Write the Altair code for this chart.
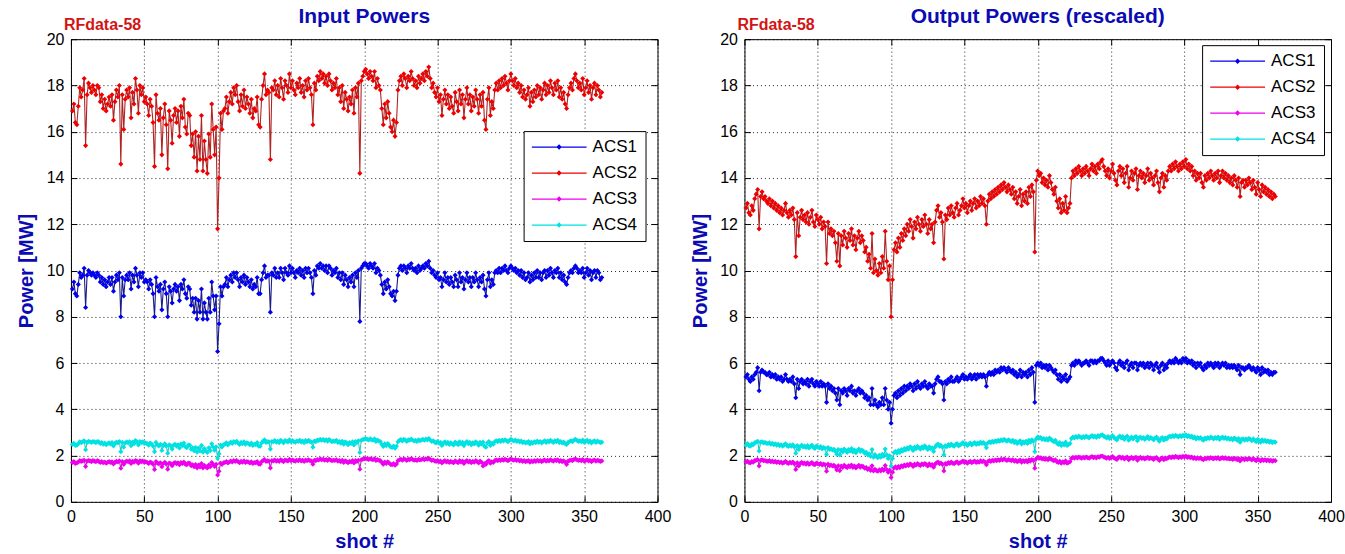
import altair as alt
import pandas as pd

# ---------------------------------------------------------------- labels
series_names = ["ACS1", "ACS2", "ACS3", "ACS4"]
marker_colors = ["#0000ee", "#ee0000", "#ee00ee", "#00e2e2"]
line_colors = ["#1c1c88", "#b02424", "#a832a8", "#38c4c4"]

x_ticks = [0, 50, 100, 150, 200, 250, 300, 350, 400]
y_ticks = [0, 2, 4, 6, 8, 10, 12, 14, 16, 18, 20]

title_input = "Input Powers"
title_output = "Output Powers (rescaled)"
run_label = "RFdata-58"
x_title = "shot #"
y_title = "Power [MW]"

# ---------------------------------------------------------------- input powers [MW], shots 1..362
input_acs1 = [
    9.2, 9.5, 9.0, 8.9, 9.4, 9.9, 9.7, 9.8, 10.1, 8.4,
    9.8, 10.0, 9.9, 9.8, 9.9, 9.8, 9.7, 9.9, 9.8, 9.5,
    9.7, 9.4, 9.6, 9.3, 9.5, 9.7, 9.4, 9.7, 9.1, 9.5,
    9.8, 9.6, 9.9, 8.0, 9.7, 8.9, 9.6, 9.8, 9.6, 9.9,
    9.2, 9.8, 9.5, 10.1, 9.8, 9.3, 9.9, 9.7, 9.9, 9.5,
    9.6, 9.5, 9.2, 9.6, 9.4, 9.0, 8.0, 9.7, 9.3, 9.1,
    9.4, 8.3, 9.2, 9.5, 9.0, 8.0, 9.3, 9.1, 8.6, 9.2,
    9.4, 9.1, 9.3, 8.7, 9.4, 9.2, 9.6, 9.0, 8.8, 9.3,
    9.2, 8.5, 8.8, 8.2, 8.8, 7.9, 8.7, 8.2, 9.2, 7.9,
    8.6, 8.2, 7.9, 8.8, 8.2, 9.5, 8.9, 8.3, 8.9, 6.5,
    7.7, 9.3, 8.9, 9.3, 9.4, 9.7, 9.3, 9.6, 9.8, 9.5,
    9.9, 9.7, 9.9, 9.6, 9.3, 9.7, 9.5, 9.8, 9.4, 9.7,
    9.5, 9.3, 9.6, 9.2, 9.4, 9.3, 9.7, 9.0, 9.0, 9.6,
    9.9, 10.2, 9.7, 9.8, 9.8, 8.2, 9.9, 9.8, 10.1, 9.7,
    9.9, 9.7, 10.1, 9.9, 9.6, 10.1, 9.9, 9.8, 10.2, 9.9,
    10.1, 9.9, 9.7, 10.0, 9.9, 10.1, 9.8, 10.0, 9.7, 10.1,
    9.9, 10.1, 9.9, 9.7, 9.0, 10.0, 9.8, 10.2, 10.1, 10.3,
    10.1, 10.2, 10.0, 10.2, 9.9, 10.2, 10.1, 9.8, 10.0, 9.9,
    10.1, 9.7, 9.9, 9.6, 9.9, 9.4, 9.8, 9.6, 9.3, 9.7,
    9.5, 9.8, 9.3, 9.9, 9.7, 10.0, 7.8, 10.1, 10.2, 10.3,
    10.3, 10.2, 10.1, 10.3, 10.2, 10.1, 10.3, 9.9, 10.1, 10.0,
    9.8, 9.4, 9.0, 9.5, 9.2, 9.6, 9.3, 9.0, 8.9, 9.1,
    8.7, 9.1, 9.8, 10.1, 10.2, 10.0, 10.2, 10.1, 9.9, 10.2,
    10.1, 10.3, 10.1, 10.0, 10.1, 9.9, 10.2, 10.0, 10.1, 10.2,
    10.1, 10.3, 10.2, 10.4, 10.1, 9.9, 10.0, 9.8, 9.7, 9.9,
    9.6, 9.7, 9.3, 9.6, 9.9, 9.5, 9.7, 9.4, 9.7, 9.5,
    9.3, 9.8, 9.6, 9.3, 9.9, 9.5, 9.7, 9.2, 9.6, 9.9,
    9.5, 9.7, 9.3, 9.7, 9.5, 9.9, 9.6, 9.3, 9.7, 9.5,
    9.8, 9.2, 8.9, 9.6, 9.9, 9.3, 9.6, 9.4, 9.9, 10.0,
    9.9, 10.1, 9.9, 10.1, 10.0, 10.2, 10.0, 9.9, 10.1, 10.2,
    10.1, 10.0, 10.1, 9.9, 10.0, 9.8, 10.0, 9.7, 9.9, 9.6,
    9.7, 9.9, 9.5, 9.8, 9.6, 9.9, 9.7, 10.0, 9.7, 9.9,
    9.6, 9.9, 10.0, 9.7, 10.0, 9.8, 10.1, 9.9, 9.7, 10.0,
    9.9, 10.1, 9.7, 9.9, 9.6, 9.8, 9.5, 9.4, 9.7, 9.9,
    10.0, 9.9, 10.1, 10.2, 10.1, 9.9, 10.0, 9.9, 10.1, 9.7,
    9.9, 10.1, 9.8, 10.0, 9.6, 9.9, 10.0, 9.7, 10.0, 9.9,
    9.6, 9.7,
]

input_acs2 = [
    16.9, 17.2, 16.4, 16.3, 17.1, 17.9, 17.5, 17.8, 18.3, 15.4,
    17.6, 18.1, 17.9, 17.7, 18.0, 17.8, 17.6, 18.0, 17.9, 17.3,
    17.6, 17.0, 17.4, 16.9, 17.2, 17.5, 17.1, 17.6, 16.5, 17.3,
    17.8, 17.5, 18.0, 14.6, 17.6, 16.1, 17.4, 17.8, 17.5, 17.9,
    16.6, 17.7, 17.2, 18.3, 17.8, 16.8, 18.0, 17.6, 17.9, 17.3,
    17.5, 17.2, 16.7, 17.4, 17.1, 16.4, 14.5, 17.6, 16.8, 16.5,
    17.0, 15.0, 16.6, 17.2, 16.3, 14.4, 16.9, 16.5, 15.5, 16.7,
    17.0, 16.4, 16.9, 15.8, 17.1, 16.6, 17.4, 16.2, 15.9, 16.8,
    16.7, 15.4, 15.9, 14.9, 16.0, 14.3, 15.8, 14.8, 16.7, 14.3,
    15.6, 14.8, 14.2, 15.9, 14.9, 17.2, 16.1, 15.0, 16.2, 11.8,
    14.0, 16.8, 16.1, 16.9, 17.0, 17.5, 16.8, 17.3, 17.7, 17.2,
    17.9, 17.6, 18.0, 17.3, 16.9, 17.6, 17.1, 17.8, 17.0, 17.5,
    17.2, 16.8, 17.4, 16.6, 17.0, 16.9, 17.5, 16.3, 16.2, 17.4,
    18.0, 18.5, 17.6, 17.8, 17.7, 14.8, 17.9, 17.8, 18.2, 17.6,
    18.0, 17.5, 18.3, 17.9, 17.4, 18.2, 18.0, 17.7, 18.5, 17.9,
    18.2, 17.8, 17.6, 18.1, 17.9, 18.3, 17.7, 18.0, 17.5, 18.2,
    17.8, 18.3, 17.9, 17.6, 16.3, 18.1, 17.8, 18.4, 18.2, 18.6,
    18.3, 18.5, 18.1, 18.4, 18.0, 18.5, 18.2, 17.8, 18.1, 17.9,
    18.3, 17.6, 17.9, 17.3, 18.0, 17.0, 17.7, 17.4, 16.9, 17.5,
    17.2, 17.8, 16.8, 17.9, 17.5, 18.1, 14.2, 18.2, 18.4, 18.6,
    18.7, 18.5, 18.3, 18.6, 18.4, 18.2, 18.6, 17.9, 18.3, 18.0,
    17.8, 17.0, 16.3, 17.2, 16.6, 17.3, 16.8, 16.2, 16.0, 16.5,
    15.8, 16.4, 17.8, 18.2, 18.4, 18.0, 18.5, 18.3, 17.9, 18.4,
    18.2, 18.6, 18.3, 18.0, 18.2, 17.9, 18.4, 18.1, 18.3, 18.5,
    18.2, 18.6, 18.4, 18.8, 18.3, 17.9, 18.1, 17.7, 17.5, 17.9,
    17.3, 17.6, 16.7, 17.4, 17.8, 17.2, 17.6, 17.0, 17.5, 17.1,
    16.8, 17.7, 17.3, 16.9, 17.8, 17.2, 17.6, 16.6, 17.4, 17.9,
    17.2, 17.6, 16.9, 17.5, 17.1, 17.8, 17.4, 16.8, 17.6, 17.1,
    17.7, 16.5, 16.1, 17.4, 17.9, 16.7, 17.3, 17.0, 17.8, 18.1,
    17.8, 18.2, 17.9, 18.3, 18.0, 18.4, 18.1, 17.8, 18.2, 18.5,
    18.2, 18.0, 18.3, 17.9, 18.1, 17.7, 18.0, 17.5, 17.8, 17.4,
    17.6, 17.9, 17.1, 17.7, 17.3, 17.8, 17.5, 18.0, 17.6, 17.9,
    17.4, 17.8, 18.1, 17.6, 18.0, 17.7, 18.2, 17.9, 17.6, 18.1,
    17.8, 18.2, 17.5, 17.9, 17.4, 17.7, 17.2, 17.0, 17.6, 17.9,
    18.1, 17.8, 18.3, 18.5, 18.2, 17.9, 18.1, 17.8, 18.3, 17.6,
    17.9, 18.2, 17.7, 18.0, 17.4, 17.9, 18.1, 17.6, 18.0, 17.8,
    17.5, 17.7,
]

input_acs3 = [
    1.70, 1.74, 1.66, 1.68, 1.72, 1.78, 1.75, 1.77, 1.80, 1.53,
    1.76, 1.79, 1.77, 1.74, 1.78, 1.76, 1.73, 1.78, 1.75, 1.70,
    1.74, 1.69, 1.72, 1.67, 1.71, 1.74, 1.70, 1.73, 1.64, 1.71,
    1.75, 1.72, 1.77, 1.45, 1.74, 1.62, 1.72, 1.76, 1.73, 1.77,
    1.66, 1.75, 1.71, 1.79, 1.76, 1.67, 1.77, 1.74, 1.76, 1.71,
    1.73, 1.70, 1.66, 1.72, 1.69, 1.63, 1.40, 1.74, 1.67, 1.65,
    1.69, 1.52, 1.66, 1.71, 1.64, 1.41, 1.68, 1.65, 1.56, 1.67,
    1.70, 1.65, 1.69, 1.60, 1.70, 1.66, 1.72, 1.63, 1.60, 1.68,
    1.67, 1.56, 1.60, 1.52, 1.61, 1.47, 1.59, 1.51, 1.66, 1.47,
    1.57, 1.51, 1.46, 1.59, 1.52, 1.70, 1.61, 1.53, 1.62, 1.16,
    1.32, 1.68, 1.62, 1.69, 1.70, 1.74, 1.68, 1.72, 1.76, 1.72,
    1.78, 1.75, 1.79, 1.73, 1.69, 1.75, 1.71, 1.77, 1.70, 1.74,
    1.72, 1.68, 1.73, 1.66, 1.70, 1.69, 1.74, 1.64, 1.63, 1.73,
    1.79, 1.83, 1.75, 1.77, 1.76, 1.46, 1.78, 1.77, 1.81, 1.76,
    1.79, 1.75, 1.82, 1.78, 1.74, 1.81, 1.79, 1.77, 1.84, 1.78,
    1.81, 1.78, 1.76, 1.80, 1.78, 1.82, 1.77, 1.80, 1.75, 1.81,
    1.78, 1.82, 1.78, 1.76, 1.63, 1.80, 1.78, 1.83, 1.81, 1.85,
    1.82, 1.84, 1.80, 1.83, 1.79, 1.84, 1.81, 1.78, 1.80, 1.79,
    1.82, 1.76, 1.79, 1.73, 1.80, 1.70, 1.77, 1.74, 1.69, 1.75,
    1.72, 1.78, 1.68, 1.79, 1.75, 1.80, 1.41, 1.82, 1.84, 1.86,
    1.87, 1.85, 1.83, 1.86, 1.84, 1.82, 1.86, 1.79, 1.83, 1.80,
    1.78, 1.70, 1.63, 1.72, 1.66, 1.73, 1.68, 1.62, 1.60, 1.65,
    1.58, 1.64, 1.78, 1.82, 1.84, 1.80, 1.85, 1.83, 1.79, 1.84,
    1.82, 1.86, 1.83, 1.80, 1.82, 1.79, 1.84, 1.81, 1.83, 1.85,
    1.82, 1.86, 1.84, 1.88, 1.83, 1.79, 1.81, 1.77, 1.75, 1.79,
    1.73, 1.76, 1.68, 1.74, 1.78, 1.72, 1.76, 1.70, 1.75, 1.71,
    1.69, 1.77, 1.73, 1.69, 1.78, 1.72, 1.76, 1.66, 1.74, 1.79,
    1.72, 1.76, 1.69, 1.75, 1.71, 1.78, 1.74, 1.68, 1.76, 1.71,
    1.55, 1.66, 1.62, 1.74, 1.79, 1.67, 1.73, 1.70, 1.78, 1.81,
    1.78, 1.82, 1.79, 1.83, 1.80, 1.84, 1.81, 1.78, 1.82, 1.85,
    1.82, 1.80, 1.83, 1.79, 1.81, 1.77, 1.80, 1.75, 1.78, 1.74,
    1.76, 1.79, 1.71, 1.77, 1.73, 1.78, 1.75, 1.80, 1.76, 1.79,
    1.74, 1.78, 1.81, 1.76, 1.80, 1.77, 1.82, 1.79, 1.76, 1.81,
    1.78, 1.82, 1.75, 1.79, 1.74, 1.77, 1.72, 1.62, 1.76, 1.79,
    1.81, 1.78, 1.83, 1.85, 1.82, 1.79, 1.81, 1.78, 1.83, 1.76,
    1.79, 1.82, 1.77, 1.80, 1.74, 1.79, 1.81, 1.76, 1.80, 1.78,
    1.75, 1.77,
]

input_acs4 = [
    2.48, 2.53, 2.44, 2.45, 2.51, 2.60, 2.56, 2.59, 2.64, 2.25,
    2.57, 2.62, 2.60, 2.57, 2.61, 2.59, 2.56, 2.61, 2.59, 2.52,
    2.56, 2.49, 2.54, 2.47, 2.51, 2.55, 2.50, 2.56, 2.42, 2.52,
    2.58, 2.55, 2.61, 2.17, 2.57, 2.36, 2.54, 2.59, 2.55, 2.60,
    2.43, 2.58, 2.51, 2.65, 2.59, 2.46, 2.61, 2.56, 2.60, 2.52,
    2.55, 2.51, 2.45, 2.54, 2.50, 2.41, 2.17, 2.57, 2.46, 2.42,
    2.49, 2.22, 2.43, 2.51, 2.40, 2.10, 2.47, 2.42, 2.28, 2.45,
    2.49, 2.41, 2.47, 2.33, 2.50, 2.43, 2.54, 2.38, 2.34, 2.46,
    2.45, 2.27, 2.34, 2.21, 2.35, 2.15, 2.33, 2.20, 2.44, 2.15,
    2.30, 2.20, 2.13, 2.34, 2.22, 2.51, 2.37, 2.23, 2.38, 1.88,
    2.08, 2.46, 2.37, 2.47, 2.49, 2.55, 2.46, 2.53, 2.58, 2.52,
    2.61, 2.57, 2.62, 2.53, 2.48, 2.57, 2.51, 2.60, 2.49, 2.55,
    2.52, 2.47, 2.54, 2.44, 2.49, 2.48, 2.56, 2.41, 2.40, 2.54,
    2.62, 2.68, 2.57, 2.60, 2.59, 2.28, 2.61, 2.60, 2.65, 2.58,
    2.62, 2.56, 2.66, 2.61, 2.55, 2.65, 2.62, 2.59, 2.68, 2.61,
    2.65, 2.60, 2.58, 2.63, 2.61, 2.66, 2.59, 2.63, 2.56, 2.65,
    2.60, 2.66, 2.61, 2.58, 2.36, 2.63, 2.60, 2.67, 2.65, 2.70,
    2.66, 2.69, 2.64, 2.68, 2.62, 2.69, 2.65, 2.60, 2.63, 2.61,
    2.66, 2.57, 2.61, 2.53, 2.62, 2.49, 2.59, 2.55, 2.47, 2.56,
    2.52, 2.60, 2.46, 2.61, 2.56, 2.64, 2.13, 2.66, 2.69, 2.71,
    2.73, 2.70, 2.67, 2.72, 2.69, 2.66, 2.72, 2.61, 2.67, 2.63,
    2.60, 2.48, 2.39, 2.51, 2.43, 2.52, 2.45, 2.37, 2.35, 2.41,
    2.32, 2.40, 2.60, 2.66, 2.69, 2.63, 2.70, 2.67, 2.61, 2.68,
    2.66, 2.71, 2.67, 2.63, 2.66, 2.61, 2.68, 2.64, 2.67, 2.70,
    2.66, 2.71, 2.68, 2.74, 2.67, 2.61, 2.64, 2.58, 2.55, 2.61,
    2.53, 2.57, 2.44, 2.54, 2.60, 2.51, 2.57, 2.48, 2.55, 2.50,
    2.46, 2.58, 2.53, 2.47, 2.60, 2.51, 2.57, 2.43, 2.54, 2.61,
    2.51, 2.57, 2.47, 2.55, 2.50, 2.60, 2.54, 2.45, 2.57, 2.50,
    2.58, 2.41, 2.36, 2.54, 2.61, 2.44, 2.53, 2.49, 2.60, 2.64,
    2.60, 2.66, 2.61, 2.67, 2.63, 2.68, 2.64, 2.60, 2.66, 2.70,
    2.66, 2.63, 2.67, 2.61, 2.64, 2.59, 2.63, 2.56, 2.60, 2.54,
    2.57, 2.61, 2.50, 2.58, 2.53, 2.60, 2.56, 2.63, 2.57, 2.61,
    2.54, 2.60, 2.64, 2.57, 2.63, 2.59, 2.66, 2.61, 2.57, 2.64,
    2.60, 2.66, 2.56, 2.61, 2.54, 2.58, 2.51, 2.48, 2.57, 2.61,
    2.64, 2.60, 2.67, 2.70, 2.66, 2.61, 2.64, 2.60, 2.67, 2.57,
    2.61, 2.66, 2.58, 2.63, 2.54, 2.61, 2.64, 2.57, 2.63, 2.60,
    2.56, 2.58,
]

# ---------------------------------------------------------------- output powers [MW], shots 1..362
output_acs1 = [
    5.4, 5.5, 5.3, 5.2, 5.4, 5.3, 5.5, 5.6, 5.8, 4.8,
    5.6, 5.7, 5.6, 5.6, 5.5, 5.5, 5.6, 5.4, 5.5, 5.4,
    5.5, 5.3, 5.4, 5.3, 5.4, 5.2, 5.3, 5.5, 5.3, 5.2,
    5.3, 5.2, 5.4, 5.1, 4.5, 5.3, 4.9, 5.2, 5.3, 5.1,
    5.2, 5.1, 5.3, 5.0, 5.2, 5.3, 5.1, 5.0, 5.2, 5.1,
    5.0, 5.2, 5.0, 5.1, 5.0, 4.3, 5.1, 4.9, 5.0, 4.8,
    4.9, 4.7, 4.4, 4.9, 4.2, 4.8, 4.7, 4.9, 4.8, 4.6,
    4.9, 4.8, 5.0, 4.7, 4.8, 4.6, 4.8, 4.9, 4.7, 4.8,
    4.7, 4.5, 4.6, 4.4, 4.5, 4.2, 4.9, 4.2, 4.4, 4.2,
    4.1, 4.3, 4.2, 4.5, 4.2, 4.9, 4.4, 4.0, 4.3, 3.4,
    4.0, 4.6, 4.7, 4.5, 4.8, 4.6, 4.9, 4.7, 5.0, 4.8,
    5.0, 4.9, 5.1, 5.0, 4.8, 5.1, 4.9, 5.2, 5.0, 4.9,
    5.1, 5.0, 5.2, 5.0, 4.9, 5.1, 5.0, 5.0, 4.7, 5.1,
    5.3, 5.4, 5.2, 5.2, 5.1, 4.4, 5.2, 5.1, 5.3, 5.2,
    5.4, 5.2, 5.2, 5.3, 5.4, 5.2, 5.3, 5.4, 5.5, 5.3,
    5.4, 5.3, 5.4, 5.5, 5.3, 5.4, 5.5, 5.3, 5.5, 5.4,
    5.5, 5.4, 5.5, 5.4, 5.0, 5.5, 5.6, 5.5, 5.6, 5.5,
    5.7, 5.6, 5.7, 5.6, 5.8, 5.7, 5.8, 5.7, 5.6, 5.8,
    5.7, 5.6, 5.7, 5.5, 5.6, 5.4, 5.5, 5.7, 5.4, 5.6,
    5.5, 5.6, 5.4, 5.7, 5.5, 5.8, 5.6, 4.3, 5.9, 6.0,
    5.9, 6.0, 5.8, 5.9, 5.8, 5.9, 5.7, 5.9, 5.8, 5.7,
    5.6, 5.7, 5.5, 5.3, 5.5, 5.2, 5.4, 5.3, 5.5, 5.2,
    5.3, 5.4, 5.9, 6.0, 5.9, 6.1, 6.0, 6.1, 6.0, 5.9,
    6.0, 6.0, 6.1, 6.0, 5.9, 6.1, 6.1, 6.0, 6.1, 6.0,
    6.1, 6.1, 6.2, 6.2, 6.1, 6.0, 5.9, 6.1, 5.9, 6.0,
    6.1, 6.0, 5.8, 5.7, 6.0, 6.1, 5.9, 6.0, 5.8, 6.0,
    6.1, 5.7, 5.9, 6.0, 5.8, 6.0, 6.0, 5.7, 5.9, 6.0,
    5.9, 6.0, 5.8, 5.9, 6.0, 5.8, 6.0, 5.9, 5.7, 5.9,
    6.0, 5.8, 5.6, 5.9, 6.0, 5.7, 5.9, 5.8, 6.0, 6.1,
    6.0, 6.1, 6.0, 6.2, 6.1, 6.0, 6.1, 6.0, 6.2, 6.1,
    6.2, 6.0, 6.1, 6.0, 6.1, 5.9, 6.0, 5.8, 6.0, 5.9,
    6.0, 5.8, 5.7, 5.9, 5.8, 6.0, 5.9, 6.0, 5.9, 5.8,
    6.0, 5.9, 6.0, 5.8, 5.9, 6.0, 5.9, 6.0, 5.8, 5.9,
    5.8, 5.9, 5.8, 5.9, 5.8, 5.7, 5.9, 5.5, 5.8, 5.8,
    5.7, 5.8, 5.8, 5.9, 5.8, 5.7, 5.8, 5.7, 5.6, 5.8,
    5.7, 5.5, 5.8, 5.6, 5.7, 5.6, 5.7, 5.5, 5.6, 5.5,
    5.6, 5.6,
]

output_acs2 = [
    12.7, 12.9, 12.5, 12.4, 12.8, 12.6, 13.1, 13.3, 13.5, 11.8,
    13.2, 13.4, 13.1, 13.2, 13.0, 12.9, 13.1, 12.8, 13.0, 12.7,
    12.9, 12.6, 12.8, 12.5, 12.7, 12.4, 12.6, 12.9, 12.5, 12.3,
    12.6, 12.4, 12.7, 12.2, 10.6, 12.5, 11.5, 12.3, 12.6, 12.2,
    12.4, 12.1, 12.5, 12.0, 12.3, 12.6, 12.1, 11.9, 12.4, 12.2,
    12.0, 12.3, 11.8, 12.1, 11.9, 10.3, 12.1, 11.6, 11.8, 11.5,
    11.7, 11.2, 10.4, 11.6, 10.2, 11.5, 11.1, 11.7, 11.4, 11.0,
    11.6, 11.3, 11.8, 11.1, 11.5, 10.9, 11.4, 11.7, 11.2, 11.5,
    11.3, 10.8, 11.0, 10.4, 10.7, 10.1, 11.6, 9.9, 10.5, 10.0,
    9.8, 10.3, 9.9, 10.6, 10.1, 11.7, 10.4, 9.6, 10.2, 8.0,
    9.6, 10.9, 11.2, 10.8, 11.4, 11.0, 11.6, 11.3, 11.8, 11.5,
    12.0, 11.7, 12.2, 11.9, 11.4, 12.1, 11.8, 12.3, 12.0, 11.7,
    12.2, 11.9, 12.4, 12.0, 11.6, 12.2, 11.8, 12.0, 11.2, 12.1,
    12.6, 12.8, 12.3, 12.5, 12.1, 10.5, 12.4, 12.2, 12.7, 12.4,
    12.8, 12.5, 12.3, 12.7, 12.9, 12.4, 12.6, 12.8, 13.1, 12.7,
    12.9, 12.5, 12.8, 13.0, 12.6, 12.9, 13.1, 12.7, 13.0, 12.8,
    13.2, 12.9, 13.1, 12.8, 12.0, 13.0, 13.3, 13.1, 13.4, 13.2,
    13.5, 13.3, 13.6, 13.4, 13.7, 13.5, 13.8, 13.6, 13.4, 13.7,
    13.5, 13.3, 13.6, 13.1, 13.4, 12.9, 13.2, 13.5, 12.8, 13.3,
    13.0, 13.4, 12.9, 13.6, 13.2, 13.7, 13.4, 10.8, 13.9, 14.3,
    14.1, 14.2, 13.8, 14.0, 13.7, 13.9, 13.6, 14.1, 13.8, 13.5,
    13.3, 13.6, 13.0, 12.7, 13.1, 12.5, 12.9, 12.6, 13.2, 12.5,
    12.7, 12.9, 14.0, 14.3, 14.1, 14.4, 14.2, 14.5, 14.3, 14.1,
    14.4, 14.2, 14.5, 14.3, 14.1, 14.4, 14.6, 14.3, 14.5, 14.2,
    14.6, 14.4, 14.7, 14.8, 14.5, 14.3, 14.1, 14.4, 14.0, 14.3,
    14.6, 14.2, 13.9, 13.7, 14.3, 14.5, 14.1, 14.4, 13.8, 14.2,
    14.5, 13.6, 14.0, 14.3, 13.9, 14.2, 14.4, 13.5, 14.1, 14.3,
    14.0, 14.2, 13.8, 14.1, 14.4, 13.9, 14.2, 14.0, 13.7, 14.1,
    14.3, 13.8, 13.4, 14.0, 14.2, 13.6, 14.1, 13.9, 14.3, 14.5,
    14.3, 14.6, 14.4, 14.7, 14.5, 14.3, 14.6, 14.4, 14.7, 14.5,
    14.8, 14.4, 14.6, 14.3, 14.5, 14.1, 14.3, 13.9, 14.2, 14.0,
    14.2, 13.8, 13.6, 14.1, 13.9, 14.2, 14.0, 14.3, 14.1, 13.9,
    14.2, 14.0, 14.3, 13.8, 14.1, 14.3, 14.0, 14.2, 13.9, 14.1,
    13.8, 14.0, 13.7, 14.1, 13.9, 13.6, 14.0, 13.2, 13.8, 13.9,
    13.6, 13.9, 13.7, 14.0, 13.8, 13.5, 13.9, 13.6, 13.3, 13.8,
    13.5, 13.2, 13.7, 13.4, 13.6, 13.3, 13.5, 13.2, 13.4, 13.1,
    13.3, 13.2,
]

output_acs3 = [
    1.72, 1.76, 1.70, 1.68, 1.74, 1.71, 1.78, 1.80, 1.83, 1.55,
    1.79, 1.82, 1.78, 1.79, 1.76, 1.75, 1.78, 1.73, 1.76, 1.72,
    1.75, 1.70, 1.73, 1.69, 1.72, 1.67, 1.70, 1.75, 1.69, 1.66,
    1.71, 1.68, 1.72, 1.65, 1.40, 1.69, 1.55, 1.66, 1.71, 1.65,
    1.68, 1.63, 1.69, 1.62, 1.66, 1.70, 1.63, 1.60, 1.68, 1.65,
    1.62, 1.66, 1.59, 1.63, 1.60, 1.32, 1.63, 1.56, 1.59, 1.55,
    1.58, 1.51, 1.38, 1.56, 1.35, 1.55, 1.49, 1.58, 1.53, 1.48,
    1.56, 1.52, 1.59, 1.49, 1.55, 1.46, 1.53, 1.58, 1.50, 1.55,
    1.52, 1.45, 1.48, 1.40, 1.44, 1.36, 1.56, 1.33, 1.41, 1.35,
    1.32, 1.39, 1.34, 1.42, 1.36, 1.57, 1.40, 1.28, 1.37, 1.05,
    1.28, 1.46, 1.51, 1.45, 1.53, 1.48, 1.56, 1.52, 1.59, 1.55,
    1.61, 1.57, 1.64, 1.60, 1.53, 1.63, 1.58, 1.65, 1.61, 1.57,
    1.64, 1.60, 1.66, 1.61, 1.55, 1.64, 1.58, 1.61, 1.50, 1.62,
    1.69, 1.72, 1.65, 1.68, 1.62, 1.33, 1.66, 1.63, 1.70, 1.66,
    1.72, 1.67, 1.65, 1.70, 1.73, 1.66, 1.69, 1.72, 1.76, 1.70,
    1.73, 1.67, 1.72, 1.75, 1.69, 1.73, 1.76, 1.70, 1.74, 1.71,
    1.77, 1.73, 1.76, 1.72, 1.60, 1.74, 1.78, 1.75, 1.80, 1.77,
    1.81, 1.78, 1.82, 1.79, 1.84, 1.81, 1.85, 1.82, 1.79, 1.83,
    1.81, 1.78, 1.82, 1.76, 1.80, 1.73, 1.77, 1.81, 1.71, 1.78,
    1.74, 1.79, 1.72, 1.82, 1.76, 1.83, 1.79, 1.45, 1.86, 1.92,
    1.89, 1.90, 1.85, 1.88, 1.83, 1.86, 1.82, 1.89, 1.85, 1.81,
    1.78, 1.82, 1.74, 1.70, 1.75, 1.67, 1.73, 1.69, 1.77, 1.67,
    1.70, 1.73, 1.88, 1.92, 1.89, 1.93, 1.90, 1.94, 1.91, 1.89,
    1.93, 1.90, 1.94, 1.91, 1.89, 1.93, 1.96, 1.91, 1.94, 1.90,
    1.95, 1.93, 1.97, 1.98, 1.94, 1.91, 1.89, 1.93, 1.88, 1.92,
    1.96, 1.90, 1.86, 1.83, 1.92, 1.94, 1.89, 1.93, 1.85, 1.90,
    1.94, 1.82, 1.88, 1.92, 1.86, 1.90, 1.93, 1.80, 1.89, 1.92,
    1.87, 1.90, 1.85, 1.89, 1.93, 1.86, 1.90, 1.87, 1.83, 1.89,
    1.91, 1.85, 1.79, 1.87, 1.90, 1.82, 1.89, 1.86, 1.91, 1.94,
    1.91, 1.95, 1.92, 1.97, 1.94, 1.91, 1.95, 1.92, 1.97, 1.94,
    1.98, 1.92, 1.95, 1.91, 1.94, 1.88, 1.91, 1.86, 1.90, 1.87,
    1.90, 1.85, 1.82, 1.88, 1.86, 1.90, 1.87, 1.91, 1.88, 1.86,
    1.90, 1.87, 1.91, 1.85, 1.88, 1.91, 1.87, 1.90, 1.86, 1.88,
    1.85, 1.87, 1.83, 1.88, 1.86, 1.82, 1.87, 1.77, 1.85, 1.86,
    1.82, 1.86, 1.83, 1.87, 1.85, 1.81, 1.86, 1.82, 1.78, 1.85,
    1.81, 1.77, 1.83, 1.79, 1.82, 1.78, 1.81, 1.77, 1.80, 1.76,
    1.79, 1.78,
]

output_acs4 = [
    2.45, 2.52, 2.43, 2.40, 2.50, 2.47, 2.55, 2.58, 2.62, 2.20,
    2.57, 2.60, 2.55, 2.57, 2.53, 2.52, 2.55, 2.49, 2.53, 2.47,
    2.51, 2.45, 2.49, 2.43, 2.47, 2.41, 2.45, 2.51, 2.43, 2.39,
    2.45, 2.41, 2.47, 2.37, 2.10, 2.43, 2.26, 2.39, 2.45, 2.37,
    2.41, 2.35, 2.43, 2.33, 2.39, 2.45, 2.35, 2.31, 2.41, 2.37,
    2.33, 2.39, 2.29, 2.35, 2.31, 2.05, 2.35, 2.26, 2.29, 2.24,
    2.27, 2.18, 2.06, 2.26, 2.03, 2.24, 2.16, 2.28, 2.22, 2.14,
    2.26, 2.20, 2.30, 2.16, 2.24, 2.12, 2.22, 2.28, 2.18, 2.24,
    2.20, 2.10, 2.14, 2.03, 2.08, 1.97, 2.26, 1.93, 2.04, 1.95,
    1.91, 2.01, 1.93, 2.06, 1.97, 2.28, 2.03, 1.87, 1.99, 1.55,
    1.87, 2.12, 2.18, 2.10, 2.22, 2.14, 2.26, 2.20, 2.30, 2.24,
    2.34, 2.28, 2.38, 2.32, 2.22, 2.36, 2.30, 2.40, 2.34, 2.28,
    2.38, 2.32, 2.42, 2.34, 2.26, 2.38, 2.30, 2.34, 2.18, 2.36,
    2.46, 2.50, 2.40, 2.44, 2.36, 2.03, 2.42, 2.38, 2.48, 2.42,
    2.50, 2.44, 2.40, 2.48, 2.52, 2.42, 2.46, 2.50, 2.56, 2.48,
    2.52, 2.44, 2.50, 2.54, 2.46, 2.52, 2.56, 2.48, 2.54, 2.50,
    2.58, 2.52, 2.56, 2.50, 2.34, 2.54, 2.60, 2.56, 2.62, 2.58,
    2.64, 2.60, 2.66, 2.62, 2.68, 2.64, 2.70, 2.66, 2.62, 2.68,
    2.64, 2.60, 2.66, 2.56, 2.62, 2.52, 2.58, 2.64, 2.50, 2.60,
    2.54, 2.62, 2.52, 2.66, 2.58, 2.68, 2.62, 2.17, 2.72, 2.80,
    2.76, 2.78, 2.70, 2.74, 2.68, 2.72, 2.66, 2.76, 2.70, 2.64,
    2.60, 2.66, 2.54, 2.48, 2.56, 2.44, 2.52, 2.46, 2.58, 2.44,
    2.48, 2.52, 2.74, 2.80, 2.76, 2.82, 2.78, 2.84, 2.80, 2.76,
    2.82, 2.78, 2.84, 2.80, 2.76, 2.82, 2.86, 2.80, 2.84, 2.78,
    2.86, 2.82, 2.88, 2.90, 2.84, 2.80, 2.76, 2.82, 2.74, 2.80,
    2.86, 2.78, 2.72, 2.68, 2.80, 2.84, 2.76, 2.82, 2.70, 2.78,
    2.84, 2.66, 2.74, 2.80, 2.72, 2.78, 2.82, 2.64, 2.76, 2.80,
    2.74, 2.78, 2.70, 2.76, 2.82, 2.72, 2.78, 2.74, 2.68, 2.76,
    2.80, 2.70, 2.62, 2.74, 2.78, 2.66, 2.76, 2.72, 2.80, 2.84,
    2.80, 2.86, 2.82, 2.88, 2.84, 2.80, 2.86, 2.82, 2.88, 2.84,
    2.90, 2.82, 2.86, 2.80, 2.84, 2.76, 2.80, 2.72, 2.78, 2.74,
    2.78, 2.70, 2.66, 2.76, 2.72, 2.78, 2.74, 2.80, 2.76, 2.72,
    2.78, 2.74, 2.80, 2.70, 2.76, 2.80, 2.74, 2.78, 2.72, 2.76,
    2.70, 2.74, 2.68, 2.76, 2.72, 2.66, 2.74, 2.58, 2.70, 2.72,
    2.66, 2.72, 2.68, 2.74, 2.70, 2.64, 2.72, 2.66, 2.60, 2.70,
    2.64, 2.58, 2.68, 2.62, 2.66, 2.60, 2.64, 2.58, 2.62, 2.56,
    2.60, 2.58,
]

# ---------------------------------------------------------------- styling
W, H = 587, 463
FONT = "Liberation Sans, Arial, Helvetica, sans-serif"
LABEL_BLUE = "#0b0bb4"
LABEL_RED = "#d41414"
# a short horizontal line with a diamond on it, as in the plot legend
LEGEND_SYMBOL = "M-1,-0.022H1V0.022H-1Z M0,-0.1L0.1,0L0,0.1L-0.1,0Z"


def long_frame(columns):
    rows = []
    for name, values in zip(series_names, columns):
        for shot, value in enumerate(values, start=1):
            rows.append({"shot": shot, "power": value, "series": name})
    return pd.DataFrame(rows)


def panel(df, title, legend_x, legend_y):
    x_scale = alt.Scale(domain=[x_ticks[0], x_ticks[-1]], nice=False, zero=False)
    y_scale = alt.Scale(domain=[y_ticks[0], y_ticks[-1]], nice=False)

    grid_style = dict(grid=True, gridColor="black", gridDash=[1, 3],
                      gridOpacity=0.85, gridWidth=1, domain=False, ticks=False,
                      labelFont=FONT, labelFontSize=16, labelColor="black",
                      titleFont=FONT, titleFontSize=20, titleFontWeight="bold",
                      titleColor=LABEL_BLUE)
    x_axis = alt.Axis(orient="bottom", values=x_ticks, title=x_title,
                      labelPadding=7, labelFlush=False, labelOverlap=False,
                      titleX=W / 2, titleY=46, titleAlign="center",
                      titleBaseline="alphabetic", **grid_style)
    y_axis = alt.Axis(orient="left", values=y_ticks, title=y_title,
                      labelPadding=7, labelOverlap=False,
                      titleAngle=270, titleX=-34, titleY=H / 2,
                      titleAlign="center", titleBaseline="bottom", **grid_style)

    lines = alt.Chart(df).mark_line(strokeWidth=1.1).encode(
        x=alt.X("shot:Q", scale=x_scale, axis=x_axis),
        y=alt.Y("power:Q", scale=y_scale, axis=y_axis),
        color=alt.Color("series:N",
                        scale=alt.Scale(domain=series_names, range=line_colors),
                        legend=None),
    )

    points = alt.Chart(df).mark_point(shape="diamond", filled=True, size=26,
                                      opacity=1, strokeWidth=0).encode(
        x=alt.X("shot:Q", scale=x_scale, axis=None),
        y=alt.Y("power:Q", scale=y_scale, axis=None),
        color=alt.Color(
            "series:N",
            scale=alt.Scale(domain=series_names, range=marker_colors),
            legend=alt.Legend(
                title=None, orient="none", legendX=legend_x, legendY=legend_y,
                symbolType=LEGEND_SYMBOL, symbolSize=3025, symbolStrokeWidth=0,
                symbolOpacity=1, symbolOffset=0, clipHeight=16, rowPadding=9,
                labelFont=FONT, labelFontSize=17, labelColor="black",
                labelOffset=6, padding=8, strokeColor="black",
                fillColor="white", cornerRadius=0,
            ),
        ),
    )

    # inward tick marks on all four sides of the box
    tick_df = pd.DataFrame({"shot": [x_ticks[0]], "power": [y_ticks[0]]})

    def inner_ticks(x_orient, y_orient):
        common = dict(labels=False, grid=False, domain=False, ticks=True,
                      tickSize=6, tickColor="black", tickWidth=1, title=None)
        return alt.Chart(tick_df).mark_point(opacity=0).encode(
            x=alt.X("shot:Q", scale=x_scale,
                    axis=alt.Axis(orient=x_orient, offset=-H, values=x_ticks, **common)),
            y=alt.Y("power:Q", scale=y_scale,
                    axis=alt.Axis(orient=y_orient, offset=-W, values=y_ticks, **common)),
        )

    ticks_a = inner_ticks("top", "right")
    ticks_b = inner_ticks("bottom", "left")

    head = alt.Chart(pd.DataFrame({"label": [title]})).mark_text(
        font=FONT, fontSize=21, fontWeight="bold", color=LABEL_BLUE,
        align="center", baseline="alphabetic",
    ).encode(text="label:N", x=alt.value(W / 2), y=alt.value(-16))

    tag = alt.Chart(pd.DataFrame({"label": [run_label]})).mark_text(
        font=FONT, fontSize=16, fontWeight="bold", color=LABEL_RED,
        align="left", baseline="alphabetic",
    ).encode(text="label:N", x=alt.value(-7), y=alt.value(-9))

    return (
        alt.layer(lines, points, ticks_a, ticks_b, head, tag)
        .resolve_scale(color="independent")
        .resolve_axis(x="independent", y="independent")
        .properties(width=W, height=H)
    )


left = panel(long_frame([input_acs1, input_acs2, input_acs3, input_acs4]),
             title_input, 453, 92)
right = panel(long_frame([output_acs1, output_acs2, output_acs3, output_acs4]),
              title_output, 458, 6)

chart = (
    alt.hconcat(left, right, spacing=87, bounds="flush")
    .properties(padding={"left": 16, "top": 5, "right": 0, "bottom": 0})
    .configure(background="white")
    .configure_view(stroke="black", strokeWidth=1)
)

chart.save("out.html", embed_options={"renderer": "svg", "actions": False})
